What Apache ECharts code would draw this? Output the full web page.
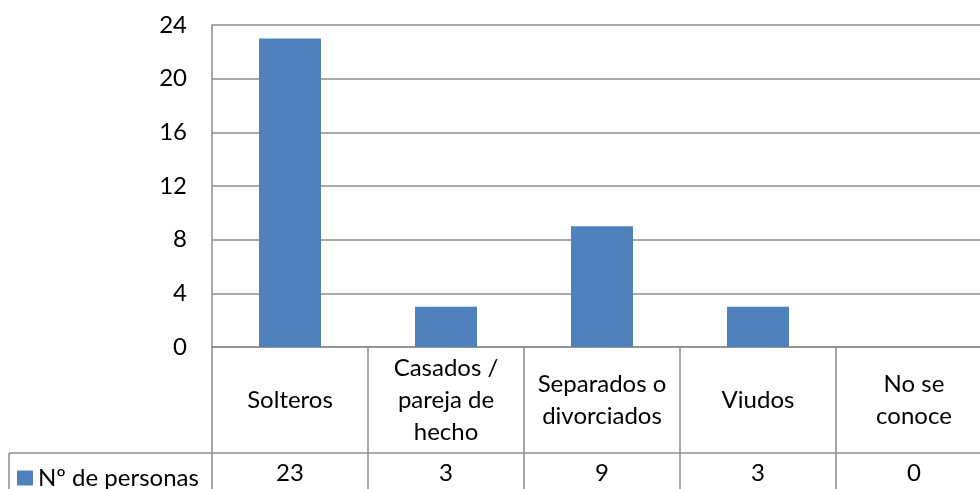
<!DOCTYPE html>
<html>
<head>
<meta charset="utf-8">
<script src="https://cdn.jsdelivr.net/npm/echarts@6/dist/echarts.min.js"></script>
<style>html,body{margin:0;padding:0;background:#fff;overflow:hidden;width:980px;height:489px}#c{width:992px;height:489px}</style>
</head>
<body>
<div id="c"></div>
<script>
const categories = ["Solteros", "Casados /\npareja de\nhecho", "Separados o\ndivorciados", "Viudos", "No se\nconoce"];
const values = [23, 3, 9, 3, 0];
const seriesName = "Nº de personas";
const yTicks = { min: 0, max: 24, interval: 4 };

const FONT = "Lato";
const GRAY = "#8c8c8c";
const chart = echarts.init(document.getElementById('c'), null, { renderer: 'canvas' });
chart.setOption({
  animation: false,
  backgroundColor: '#fff',
  grid: { left: 212, right: 0, top: 25, bottom: 142, containLabel: false },
  legend: {
    show: true, left: 17, top: 466, icon: 'rect', itemWidth: 16, itemHeight: 15, itemGap: 10,
    padding: 0,
    textStyle: { fontFamily: FONT, fontSize: 24, color: '#000', padding: [0, 0, 0, 0] },
    data: [seriesName]
  },
  xAxis: [{
    type: 'category', data: categories, position: 'bottom',
    axisLine: { show: true, lineStyle: { color: GRAY, width: 1.5 } },
    axisTick: { show: true, alignWithLabel: false, length: 142, lineStyle: { color: GRAY, width: 1.5 } },
    axisLabel: { margin: 53, verticalAlign: 'middle', fontFamily: FONT, fontSize: 24, color: '#000', lineHeight: 32, interval: 0, align: 'center' }
  }, {
    type: 'category', data: categories, position: 'bottom',
    axisLine: { show: false }, axisTick: { show: false },
    axisLabel: { margin: 126, verticalAlign: 'middle', fontFamily: FONT, fontSize: 24, color: '#000', interval: 0,
      formatter: (v, i) => String(values[i]) }
  }],
  yAxis: {
    type: 'value', min: yTicks.min, max: yTicks.max, interval: yTicks.interval,
    axisLine: { show: true, lineStyle: { color: GRAY, width: 1.5 } },
    axisTick: { show: false },
    splitLine: { show: true, lineStyle: { color: GRAY, width: 1.5 } },
    axisLabel: { margin: 25, fontFamily: FONT, fontSize: 24, color: '#000' }
  },
  series: [{
    name: seriesName, type: 'bar', data: values, barWidth: 62,
    itemStyle: { color: '#4f81bd' }
  }],
  graphic: [
    { type: 'line', shape: { x1: 9, y1: 453, x2: 992, y2: 453 }, style: { stroke: GRAY, lineWidth: 1.5 }, silent: true },
    { type: 'line', shape: { x1: 9, y1: 453, x2: 9, y2: 489 }, style: { stroke: GRAY, lineWidth: 1.5 }, silent: true }
  ]
});
</script>
</body>
</html>
